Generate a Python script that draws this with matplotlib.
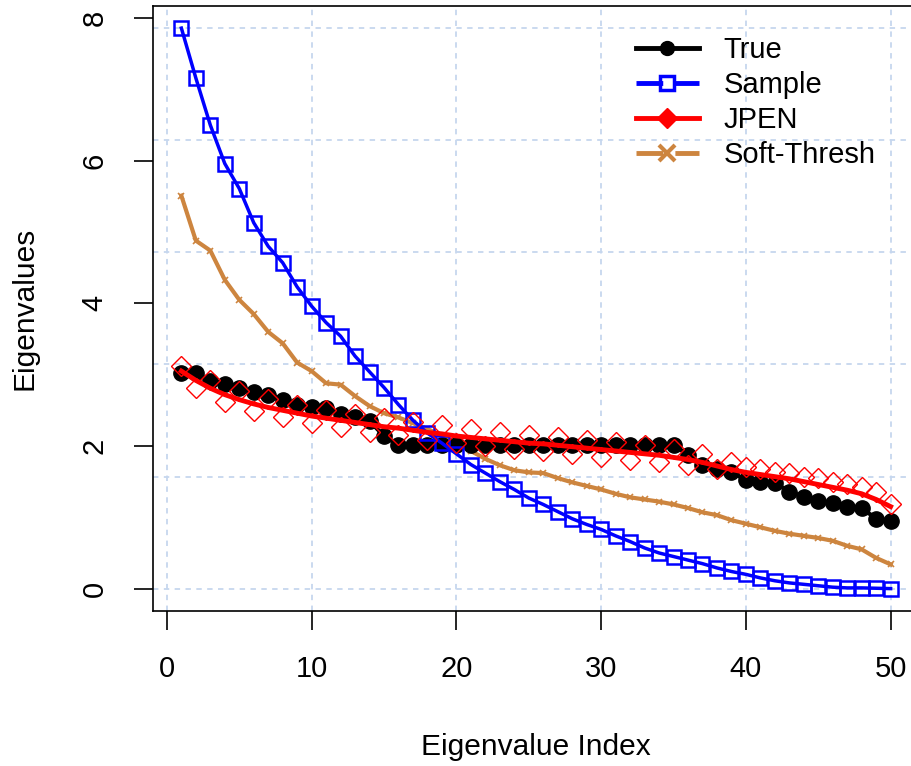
import matplotlib
matplotlib.use("Agg")
import matplotlib.pyplot as plt
from matplotlib.lines import Line2D
import numpy as np

plt.rcParams['font.family'] = ['Liberation Sans', 'DejaVu Sans']

# 数据
idx = list(range(1, 51))
true_vals = [3.03, 3.02, 2.91, 2.87, 2.81, 2.76, 2.72, 2.65, 2.58, 2.55,
             2.53, 2.45, 2.41, 2.35, 2.14, 2.01, 2.01, 2.01, 2.01, 2.01,
             2.01, 2.01, 2.01, 2.01, 2.01, 2.01, 2.01, 2.01, 2.01, 2.01,
             2.01, 2.01, 2.01, 2.01, 2.01, 1.88, 1.73, 1.68, 1.64, 1.52,
             1.50, 1.48, 1.36, 1.29, 1.23, 1.20, 1.15, 1.13, 0.98, 0.95]
sample_vals = [7.86, 7.16, 6.50, 5.96, 5.61, 5.13, 4.80, 4.57, 4.23, 3.96,
               3.73, 3.54, 3.26, 3.04, 2.82, 2.58, 2.36, 2.18, 2.04, 1.89,
               1.74, 1.62, 1.50, 1.39, 1.27, 1.18, 1.08, 0.98, 0.90, 0.83,
               0.74, 0.66, 0.57, 0.50, 0.45, 0.40, 0.35, 0.29, 0.24, 0.20,
               0.15, 0.11, 0.08, 0.06, 0.04, 0.02, 0.01, 0.01, 0.005, 0.0]
jpen_line = [3.05, 2.92, 2.81, 2.72, 2.65, 2.59, 2.54, 2.50, 2.46, 2.42,
             2.39, 2.36, 2.33, 2.30, 2.27, 2.25, 2.22, 2.19, 2.17, 2.14,
             2.12, 2.10, 2.08, 2.06, 2.04, 2.03, 2.01, 1.99, 1.97, 1.95,
             1.93, 1.91, 1.89, 1.87, 1.84, 1.81, 1.77, 1.72, 1.67, 1.63,
             1.60, 1.57, 1.54, 1.50, 1.46, 1.42, 1.38, 1.33, 1.25, 1.15]
jpen_pts = [3.12, 2.82, 2.93, 2.62, 2.77, 2.49, 2.66, 2.40, 2.58, 2.32,
            2.51, 2.26, 2.45, 2.20, 2.39, 2.15, 2.34, 2.09, 2.29, 2.04,
            2.24, 2.00, 2.20, 1.96, 2.16, 1.93, 2.13, 1.89, 2.09, 1.85,
            2.05, 1.81, 2.01, 1.77, 1.96, 1.73, 1.89, 1.68, 1.77, 1.71,
            1.68, 1.64, 1.62, 1.57, 1.55, 1.50, 1.47, 1.43, 1.35, 1.18]
soft_vals = [5.51, 4.88, 4.74, 4.33, 4.05, 3.85, 3.60, 3.44, 3.17, 3.05,
             2.88, 2.86, 2.70, 2.56, 2.46, 2.40, 2.32, 2.24, 2.14, 2.04,
             1.93, 1.82, 1.73, 1.66, 1.63, 1.62, 1.55, 1.49, 1.44, 1.39,
             1.33, 1.28, 1.25, 1.22, 1.18, 1.13, 1.07, 1.03, 0.96, 0.91,
             0.86, 0.81, 0.77, 0.74, 0.71, 0.67, 0.60, 0.55, 0.43, 0.34]

soft_col = '#CD853F'
grid_col = '#C6D7EE'

fig = plt.figure(figsize=(9.11, 7.66), dpi=100)
ax = fig.add_axes([153/911, 1-611/766, (919-153)/911, (611-6)/766])

# 网格线
ymin, ymax = min(sample_vals), max(sample_vals)
for g in np.linspace(ymin, ymax, 6):
    ax.axhline(g, color=grid_col, lw=1.3, ls=(0, (3, 3)), zorder=0)
for g in range(0, 60, 10):
    ax.axvline(g, color=grid_col, lw=1.3, ls=(0, (3, 3)), zorder=0)

# 画图
ax.plot(idx, soft_vals, color=soft_col, lw=3, marker='x', ms=5, mew=1.2, zorder=2)
ax.plot(idx, true_vals, color='black', lw=3, marker='o', ms=11, zorder=3)
ax.plot(idx, sample_vals, color='blue', lw=2.5, marker='s', ms=10, mfc='none', mew=1.8, zorder=4)
ax.plot(idx, jpen_line, color='red', lw=3.5, zorder=5)
ax.plot(idx, jpen_pts, ls='none', marker='D', ms=10, mfc='none', mec='red', mew=1.0, zorder=5)

ax.set_xlim(-0.96, 51.96)
ax.set_ylim(-0.314, 8.17)
ax.set_xticks([0, 10, 20, 30, 40, 50])
ax.set_yticks([0, 2, 4, 6, 8])
ax.tick_params(axis='both', direction='out', length=14, width=1.2, labelsize=21, pad=18)
for lab in ax.get_yticklabels():
    lab.set_rotation(90)
    lab.set_va('center')
for s in ax.spines.values():
    s.set_linewidth(1.2)
ax.set_xlabel('Eigenvalue Index', fontsize=21.5, labelpad=36)
ax.set_ylabel('Eigenvalues', fontsize=21.5, labelpad=30)

# 图例
dash = (0, (5.5, 2.5))
handles = [
    Line2D([], [], color='black', lw=3.5, marker='o', ms=10),
    Line2D([], [], color='blue', lw=3.5, ls=dash, marker='s', ms=10, mfc='none', mew=2.5),
    Line2D([], [], color='red', lw=3.5, marker='D', ms=10),
    Line2D([], [], color=soft_col, lw=3.5, ls=dash, marker='x', ms=11, mew=3),
]
ax.legend(handles, ['True', 'Sample', 'JPEN', 'Soft-Thresh'], loc='upper left',
          bbox_to_anchor=(636/911, 1-36/766), bbox_transform=fig.transFigure,
          frameon=False, fontsize=21, handlelength=2.15, handletextpad=0.85,
          labelspacing=0.24, borderpad=0, borderaxespad=0)

plt.savefig('out.png', dpi=100)
